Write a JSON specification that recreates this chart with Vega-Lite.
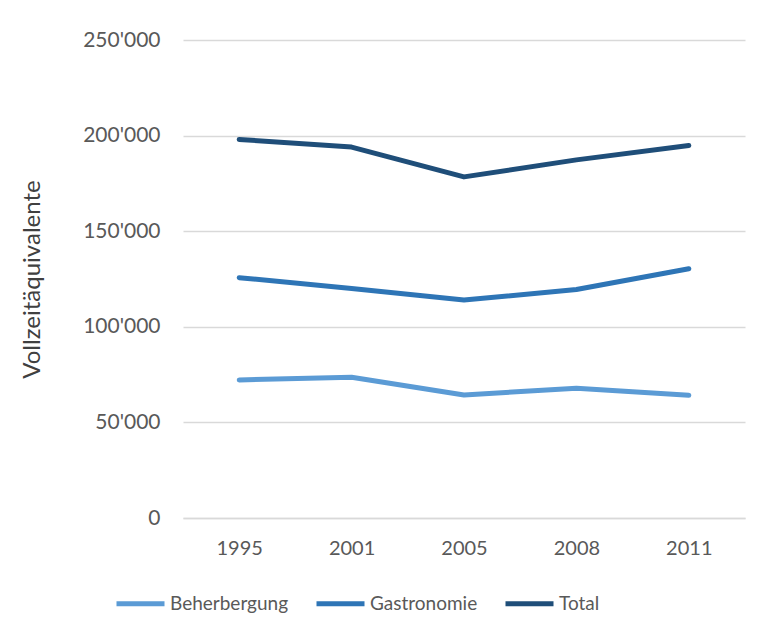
{
  "$schema": "https://vega.github.io/schema/vega-lite/v6.json",
  "autosize": "none",
  "width": 562,
  "height": 478,
  "padding": {"left": 183, "top": 40, "right": 20, "bottom": 117},
  "background": "white",
  "config": {
    "view": {"stroke": null},
    "font": "Lato"
  },
  "data": {
    "values": [
      {"Jahr": "1995", "Bereich": "Beherbergung", "Wert": 72200},
      {"Jahr": "2001", "Bereich": "Beherbergung", "Wert": 73600},
      {"Jahr": "2005", "Bereich": "Beherbergung", "Wert": 64300},
      {"Jahr": "2008", "Bereich": "Beherbergung", "Wert": 67900},
      {"Jahr": "2011", "Bereich": "Beherbergung", "Wert": 64200},
      {"Jahr": "1995", "Bereich": "Gastronomie", "Wert": 125700},
      {"Jahr": "2001", "Bereich": "Gastronomie", "Wert": 120000},
      {"Jahr": "2005", "Bereich": "Gastronomie", "Wert": 114000},
      {"Jahr": "2008", "Bereich": "Gastronomie", "Wert": 119500},
      {"Jahr": "2011", "Bereich": "Gastronomie", "Wert": 130400},
      {"Jahr": "1995", "Bereich": "Total", "Wert": 198000},
      {"Jahr": "2001", "Bereich": "Total", "Wert": 194000},
      {"Jahr": "2005", "Bereich": "Total", "Wert": 178400},
      {"Jahr": "2008", "Bereich": "Total", "Wert": 187300},
      {"Jahr": "2011", "Bereich": "Total", "Wert": 194800}
    ]
  },
  "mark": {"type": "line", "strokeWidth": 5, "strokeCap": "round", "strokeJoin": "round"},
  "encoding": {
    "x": {
      "field": "Jahr",
      "type": "ordinal",
      "scale": {"type": "point", "padding": 0.5},
      "axis": {
        "title": null,
        "labelAngle": 0,
        "labelFontSize": 20,
        "labelColor": "#595959",
        "labelPadding": 20,
        "ticks": false,
        "domain": true,
        "domainColor": "#D9D9D9",
        "domainWidth": 1.5,
        "grid": false
      }
    },
    "y": {
      "field": "Wert",
      "type": "quantitative",
      "scale": {"domain": [0, 250000], "nice": false},
      "axis": {
        "title": "Vollzeitäquivalente",
        "titleFontSize": 24,
        "titleFontWeight": "normal",
        "titleColor": "#404040",
        "titlePadding": 38,
        "values": [0, 50000, 100000, 150000, 200000, 250000],
        "labelExpr": "replace(format(datum.value, ','), ',', \"'\")",
        "labelFontSize": 21,
        "labelColor": "#595959",
        "labelPadding": 23,
        "ticks": false,
        "domain": false,
        "grid": true,
        "gridColor": "#D9D9D9",
        "gridWidth": 1.5
      }
    },
    "color": {
      "field": "Bereich",
      "type": "nominal",
      "scale": {
        "domain": ["Beherbergung", "Gastronomie", "Total"],
        "range": ["#5B9BD5", "#2E75B6", "#1F4E79"]
      },
      "legend": {
        "title": null,
        "orient": "none",
        "legendX": -69,
        "legendY": 537,
        "direction": "horizontal",
        "symbolType": "stroke",
        "symbolSize": 2304,
        "symbolStrokeWidth": 5,
        "labelFontSize": 19,
        "labelColor": "#595959",
        "labelOffset": 3,
        "columnPadding": 17
      }
    }
  }
}
